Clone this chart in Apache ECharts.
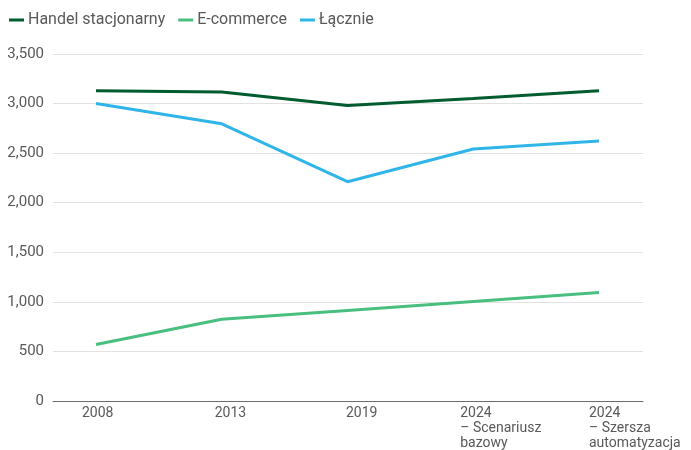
<!DOCTYPE html>
<html>
<head>
<meta charset="utf-8">
<script src="https://cdn.jsdelivr.net/npm/echarts@6/dist/echarts.min.js"></script>
<style>html,body{margin:0;padding:0;background:#fff}#c{width:691px;height:450px}</style>
</head>
<body>
<div id="c"></div>
<script>
var categories = ['2008', '2013', '2019', '2024\n– Scenariusz\nbazowy', '2024\n– Szersza\nautomatyzacja'];
var handel = [3130, 3115, 2980, 3050, 3130];
var ecommerce = [565, 820, 910, 1000, 1090];
var lacznie = [3000, 2795, 2210, 2540, 2620];
var yTicks = [0, 500, 1000, 1500, 2000, 2500, 3000, 3500];
var labelShift = [0, 14, 25, 2, 8];

var chart = echarts.init(document.getElementById('c'));
var font = 'Roboto';
var grey = '#595959';
var rich = {};
labelShift.forEach(function (s, i) {
  rich['s' + i] = { width: 28, align: 'left', padding: [0, 0, 0, s], fontFamily: font, fontSize: 14, color: grey, lineHeight: 15 };
});
chart.setOption({
  animation: false,
  textStyle: { fontFamily: font },
  legend: {
    left: 4, top: 7, itemWidth: 15, itemHeight: 3, itemGap: 13, icon: 'rect',
    textStyle: { fontFamily: font, fontSize: 16, color: grey, padding: [0, 0, 0, -1] },
    data: ['Handel stacjonarny', 'E-commerce', 'Łącznie']
  },
  grid: [
    { left: 53, right: 48, top: 54, bottom: 49 },
    { left: 96, right: 92, top: 54, bottom: 49 }
  ],
  xAxis: [
    { gridIndex: 0, type: 'value', min: 0, max: 1, axisLine: { show: true, lineStyle: { color: '#6b6b6b', width: 1 } },
      axisTick: { show: false }, axisLabel: { show: false }, splitLine: { show: false } },
    { gridIndex: 1, type: 'category', boundaryGap: false, data: categories,
      axisLine: { show: false }, axisTick: { show: false }, splitLine: { show: false },
      axisLabel: { interval: 0, margin: 5, align: 'center', verticalAlign: 'top',
        formatter: function (v, i) {
          return v.split('\n').map(function (l) { return '{s' + i + '|' + l + '}'; }).join('\n');
        }, rich: rich } }
  ],
  yAxis: [
    { gridIndex: 0, type: 'value', min: 0, max: 3500, interval: 500,
      axisLine: { show: false }, axisTick: { show: false },
      axisLabel: { margin: 9, fontFamily: font, fontSize: 15, color: grey,
        formatter: function (v) { return yTicks.indexOf(v) >= 0 ? v.toLocaleString('en-US') : ''; } },
      splitLine: { lineStyle: { color: '#e2e2e2', width: 1 } } },
    { gridIndex: 1, type: 'value', min: 0, max: 3500, interval: 500, show: false }
  ],
  series: [
    { name: 'Handel stacjonarny', type: 'line', xAxisIndex: 1, yAxisIndex: 1, data: handel,
      symbol: 'none', lineStyle: { color: '#005c2e', width: 3 }, itemStyle: { color: '#005c2e' } },
    { name: 'E-commerce', type: 'line', xAxisIndex: 1, yAxisIndex: 1, data: ecommerce,
      symbol: 'none', lineStyle: { color: '#48bf7f', width: 3 }, itemStyle: { color: '#48bf7f' } },
    { name: 'Łącznie', type: 'line', xAxisIndex: 1, yAxisIndex: 1, data: lacznie,
      symbol: 'none', lineStyle: { color: '#30b5e8', width: 3 }, itemStyle: { color: '#30b5e8' } }
  ]
});
</script>
</body>
</html>
